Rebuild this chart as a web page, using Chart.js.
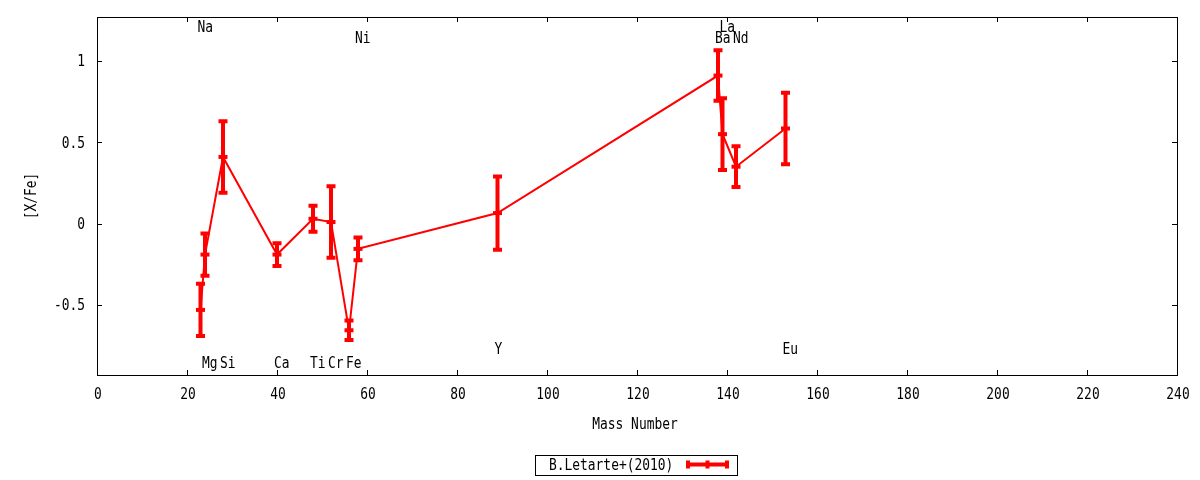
<!DOCTYPE html>
<html>
<head>
<meta charset="utf-8">
<script src="https://cdn.jsdelivr.net/npm/chart.js@4/dist/chart.umd.min.js"></script>
<style>
  html, body { margin: 0; padding: 0; background: #fff; }
  #wrap { width: 1200px; height: 480px; }
</style>
</head>
<body>
<div id="wrap"><canvas id="abundChart" width="1200" height="480"></canvas></div>
<script>
// abundances [X/Fe] vs mass number, B.Letarte+(2010)
const mass    = [23, 24, 28, 40, 48, 52, 56, 58, 89, 138, 139, 142, 153];
const xfe     = [-0.53, -0.19, 0.41, -0.19, 0.03, 0.01, -0.655, -0.155, 0.065, 0.91, 0.55, 0.35, 0.585];
const xfeErr  = [0.16, 0.13, 0.22, 0.07, 0.08, 0.22, 0.06, 0.07, 0.225, 0.155, 0.22, 0.125, 0.22];

// element names written on the plot
const elemNames  = ['Na', 'Mg', 'Si', 'Ca', 'Ti', 'Cr', 'Fe', 'Ni', 'Y', 'Ba', 'La', 'Nd', 'Eu'];
const elemLabelY = [1.21, -0.855, -0.855, -0.855, -0.855, -0.855, -0.855, 1.145, -0.77, 1.145, 1.21, 1.145, -0.77];

// axes
const xTicks = [0, 20, 40, 60, 80, 100, 120, 140, 160, 180, 200, 220, 240];
const yTicks = [-0.5, 0, 0.5, 1];
const yTickLabels = ['-0.5', '0', '0.5', '1'];
const xRange = [0, 240];
const yRange = [-0.93, 1.27];

const seriesName = 'B.Letarte+(2010)';

const FONT = '15px "DejaVu Sans Mono"';
const RED = '#ff0000';

// narrow mono text like the gnuplot terminal font
function drawText(ctx, str, x, y, align) {
    ctx.save();
    ctx.translate(x, y + 1);
    ctx.scale(0.86, 1);
    ctx.font = FONT;
    ctx.fillStyle = '#000';
    ctx.textAlign = align || 'left';
    ctx.textBaseline = 'middle';
    ctx.fillText(str, 0, 0);
    ctx.restore();
}

// gnuplot-like frame, inward ticks on all four sides, titles, labels, key
const gnuFrame = {
    id: 'gnuFrame',
    afterDatasetsDraw(chart) {
        const ctx = chart.ctx;
        const xs = chart.scales.x, ys = chart.scales.y;
        // error bars with caps
        ctx.save();
        ctx.strokeStyle = RED;
        ctx.lineWidth = 4;
        ctx.lineCap = 'butt';
        for (let i = 0; i < mass.length; i++) {
            const px = xs.getPixelForValue(mass[i]);
            const top = ys.getPixelForValue(xfe[i] + xfeErr[i]);
            const bot = ys.getPixelForValue(xfe[i] - xfeErr[i]);
            ctx.beginPath();
            ctx.moveTo(px, top - 2);
            ctx.lineTo(px, bot + 2);
            ctx.moveTo(px - 4.5, top);
            ctx.lineTo(px + 4.5, top);
            ctx.moveTo(px - 4.5, bot);
            ctx.lineTo(px + 4.5, bot);
            ctx.stroke();
        }
        ctx.restore();
    },
    afterDraw(chart) {
        const ctx = chart.ctx;
        const a = chart.chartArea;
        const xs = chart.scales.x, ys = chart.scales.y;
        ctx.save();
        ctx.strokeStyle = '#000';
        ctx.lineWidth = 1;
        ctx.strokeRect(Math.round(a.left) + 0.5, Math.round(a.top) + 0.5,
            Math.round(a.right - a.left), Math.round(a.bottom - a.top));

        ctx.beginPath();
        xTicks.forEach(v => {
            const p = Math.round(xs.getPixelForValue(v)) + 0.5;
            ctx.moveTo(p, a.bottom); ctx.lineTo(p, a.bottom - 5);
            ctx.moveTo(p, a.top); ctx.lineTo(p, a.top + 5);
        });
        yTicks.forEach(v => {
            const p = Math.round(ys.getPixelForValue(v)) + 0.5;
            ctx.moveTo(a.left, p); ctx.lineTo(a.left + 5, p);
            ctx.moveTo(a.right, p); ctx.lineTo(a.right - 5, p);
        });
        ctx.stroke();

        // tick labels
        xTicks.forEach(v => drawText(ctx, String(v), xs.getPixelForValue(v) + 1, a.bottom + 19.5, 'center'));
        yTicks.forEach((v, i) => drawText(ctx, yTickLabels[i], a.left - 12, ys.getPixelForValue(v) + 0.5, 'right'));

        // element labels
        for (let i = 0; i < elemNames.length; i++) {
            drawText(ctx, elemNames[i], xs.getPixelForValue(mass[i]) - 3, ys.getPixelForValue(elemLabelY[i]) + 0.5, 'left');
        }

        // axis titles
        drawText(ctx, 'Mass Number', (a.left + a.right) / 2 - 2, 424, 'center');
        ctx.save();
        ctx.translate(32, (a.top + a.bottom) / 2);
        ctx.rotate(-Math.PI / 2);
        drawText(ctx, '[X/Fe]', 0, -1, 'center');
        ctx.restore();

        // key box
        ctx.strokeRect(535.5, 455.5, 202, 20);
        drawText(ctx, seriesName, 549, 465, 'left');
        ctx.strokeStyle = RED;
        ctx.lineWidth = 4;
        ctx.beginPath();
        ctx.moveTo(686, 464.5); ctx.lineTo(729, 464.5);
        ctx.moveTo(688, 460.5); ctx.lineTo(688, 468.5);
        ctx.moveTo(707.5, 460.5); ctx.lineTo(707.5, 468.5);
        ctx.moveTo(727, 460.5); ctx.lineTo(727, 468.5);
        ctx.stroke();
        ctx.restore();
    }
};

const ctx = document.getElementById('abundChart').getContext('2d');
const abundChart = new Chart(ctx, {
    type: 'line',
    data: {
        datasets: [{
            label: seriesName,
            data: mass.map((m, i) => ({ x: m, y: xfe[i] })),
            borderColor: RED,
            borderWidth: 2,
            tension: 0,
            fill: false,
            pointStyle: 'line',
            pointRadius: 4.5,
            pointBorderWidth: 4,
            pointBorderColor: RED,
            pointBackgroundColor: RED
        }]
    },
    options: {
        responsive: false,
        devicePixelRatio: 1,
        animation: false,
        events: [],
        layout: { padding: { top: 17, right: 23, bottom: 0, left: 0 } },
        plugins: {
            legend: { display: false },
            tooltip: { enabled: false }
        },
        scales: {
            x: {
                type: 'linear',
                min: xRange[0],
                max: xRange[1],
                grid: { display: false },
                border: { display: false },
                ticks: { display: false },
                afterBuildTicks: s => { s.ticks = xTicks.map(v => ({ value: v })); },
                afterFit: s => { s.height = 105; }
            },
            y: {
                type: 'linear',
                min: yRange[0],
                max: yRange[1],
                grid: { display: false },
                border: { display: false },
                ticks: { display: false },
                afterBuildTicks: s => { s.ticks = yTicks.map(v => ({ value: v })); },
                afterFit: s => { s.width = 97; }
            }
        }
    },
    plugins: [gnuFrame]
});
</script>
</body>
</html>
